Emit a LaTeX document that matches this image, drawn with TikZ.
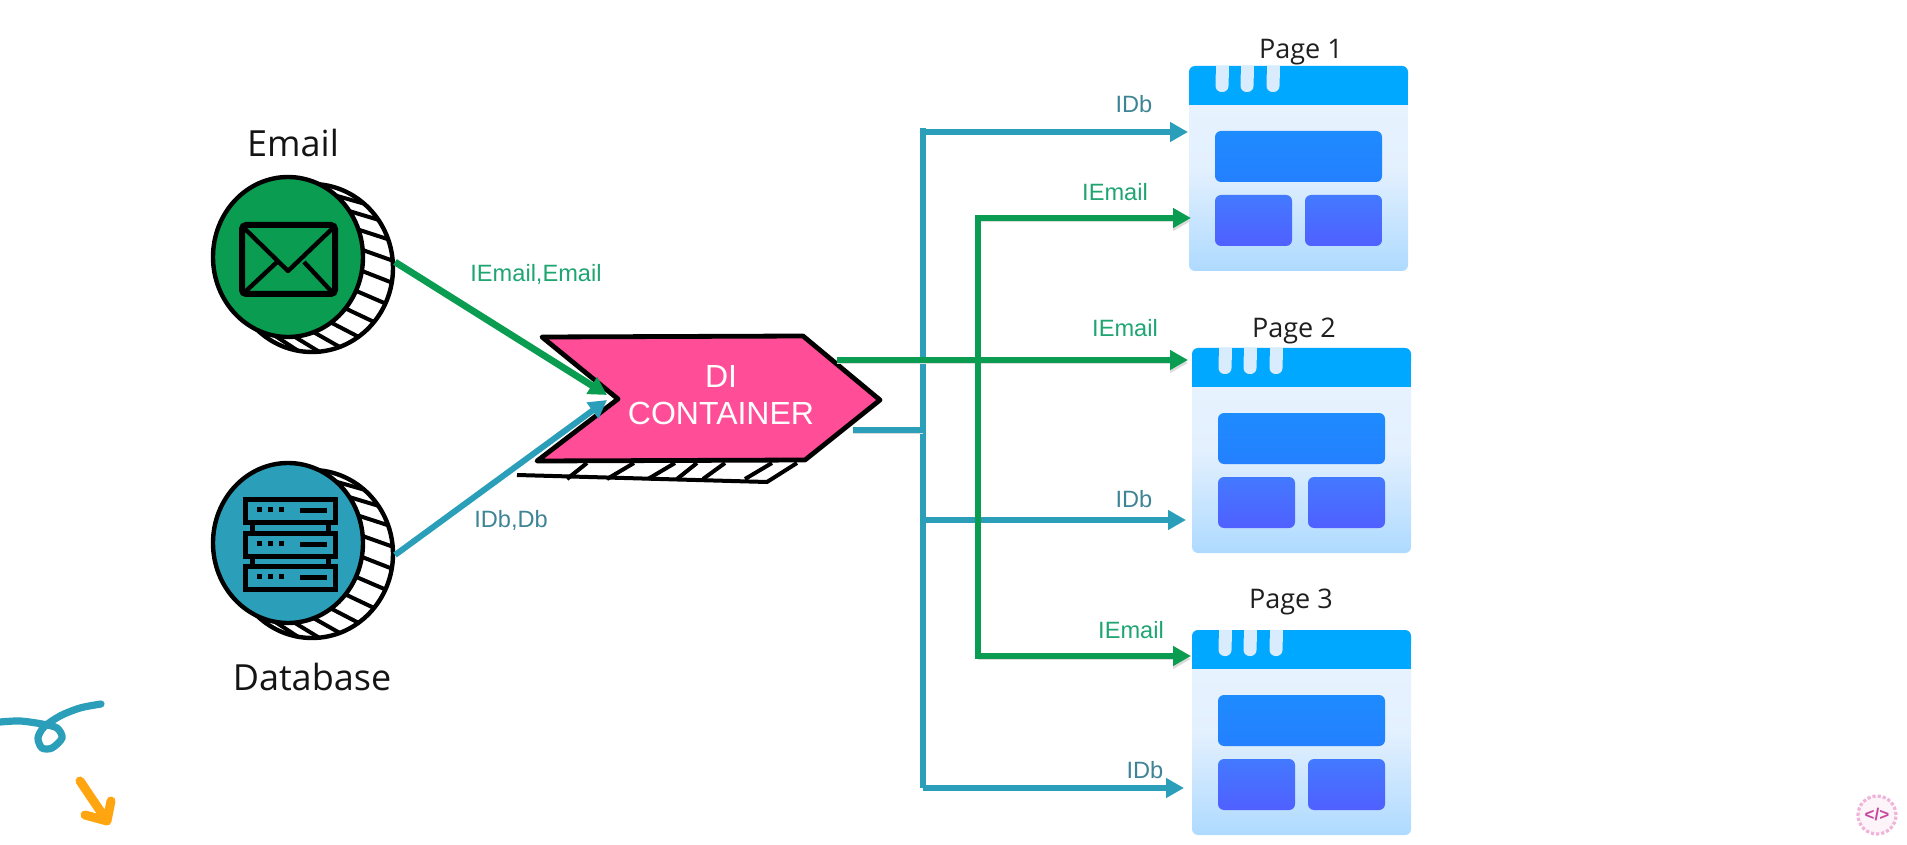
\documentclass[tikz,border=0pt]{standalone}
\usepackage{fontspec}
\setmainfont{Liberation Sans}
\newfontfamily\titlefont{Open Sans}
\usetikzlibrary{arrows.meta,shapes.geometric}
\definecolor{wireGreen}{HTML}{0A9C50}
\definecolor{wireTeal}{HTML}{2B9FB9}
\definecolor{lblGreen}{HTML}{1FA572}
\definecolor{lblTeal}{HTML}{3F8496}
\definecolor{chevPink}{HTML}{FF4D97}
\definecolor{headBlue}{HTML}{00A9FF}
\definecolor{bodyTop}{HTML}{E9F3FE}
\definecolor{bodyMid}{HTML}{E3F0FE}
\definecolor{bodyBot}{HTML}{AEDAFF}
\definecolor{notchPale}{HTML}{D8ECFD}
\definecolor{wideTop}{HTML}{1E8BFF}
\definecolor{wideBot}{HTML}{2480FF}
\definecolor{smallTop}{HTML}{4379FF}
\definecolor{smallBot}{HTML}{5060FF}
\definecolor{badgeInk}{HTML}{C8489E}
\definecolor{badgeRing}{HTML}{F0B4DA}
\definecolor{arrowOrange}{HTML}{FFA50F}
\tikzset{
  greenwire/.style={draw=wireGreen,line width=3.4pt,preaction={draw=black!14,transform canvas={yshift=-1.5pt}}},
  tealwire/.style={draw=wireTeal,line width=3pt},
  tiparrow/.style={-{Triangle[length=9pt,width=9.5pt]}},
  lblg/.style={text=lblGreen,font=\fontsize{11.8}{14}\selectfont,anchor=base,inner sep=0pt},
  lblt/.style={text=lblTeal,font=\fontsize{11.8}{14}\selectfont,anchor=base,inner sep=0pt},
  bigtitle/.style={font=\titlefont\fontsize{18}{22}\selectfont,text=black!92,anchor=base,inner sep=0pt},
  pagetitle/.style={font=\titlefont\fontsize{13.5}{16}\selectfont,text=black!88,anchor=base,inner sep=0pt},
  coinface/.style={ellipse,draw=black,line width=2.2pt,minimum width=75pt,minimum height=80pt,inner sep=0pt},
  pagebody/.style={rectangle,rounded corners=3pt,minimum width=109.5pt,minimum height=102.5pt,inner sep=0pt,
    top color=bodyTop,bottom color=bodyBot,middle color=bodyMid},
}
\begin{document}
\begin{tikzpicture}[x=0.5pt,y=-0.5pt]
  \useasboundingbox (0,0) rectangle (1907,845);

  % coins
  \foreach \nm/\cy/\col in {emailCoin/257/wireGreen,dbCoin/543/wireTeal} {
    \node[coinface,fill=white,minimum width=81pt,minimum height=84pt] (\nm Back) at (312,\cy+11) {};
    \foreach \a in {-50,-35,...,100}
      \draw[line width=2pt] ({288+75*cos(\a)},{\cy+80*sin(\a)}) -- ({312+81*cos(\a)},{\cy+11+84*sin(\a)});
    \node[coinface,fill=\col] (\nm) at (288,\cy) {};
  }

  % envelope
  \draw[line width=3pt,rounded corners=2pt] (242,225) rectangle (335,294);
  \draw[line width=2.2pt,line join=round] (243,227) -- (288,271) -- (334,227);
  \draw[line width=2.2pt] (245,292) -- (277,262) (332,292) -- (304,262);

  % server
  \foreach \ry in {499,533,566} {
    \draw[line width=2.5pt] (245,\ry) rectangle (335,\ry+23);
    \foreach \dx in {257,268,279}
      \fill (\dx,\ry+13) rectangle ++(5,-5);
    \draw[line width=2.5pt] (300,\ry+11) -- (327,\ry+11);
  }
  \draw[line width=2.5pt] (252,522) -- (252,533) (328,522) -- (328,533) (252,556) -- (252,566) (328,556) -- (328,566);

  \node[bigtitle] (emailTitle) at (293,157) {Email};
  \node[bigtitle] (dbTitle) at (312,690) {Database};

  % container
  \draw[line width=2pt] (517,475) -- (767,482) -- (797,463);
  \foreach \ta/\tb in {587/567,634/607,675/648,697/677,725/703,772/745}
    \draw[line width=2pt] (\ta,463) -- (\tb,479);
  \draw[fill=chevPink,line width=2.4pt,line join=round] (542,337) -- (803,336) -- (880,400) -- (805,460) -- (537,461) -- (618,399) -- cycle;
  \node[text=white,align=center,font=\fontsize{16}{18.5}\selectfont,inner sep=0pt] (container) at (721,395) {DI\\CONTAINER};

  \coordinate (emailOut) at (395,262);
  \coordinate (dbOut) at (395,555);
  \coordinate (notchA) at (607,395);
  \coordinate (notchB) at (607,400);
  \coordinate (chevGreen) at (837,360);
  \coordinate (chevTeal) at (853,430);
  \coordinate (tealJoin) at (923,430);
  \coordinate (tealTop) at (923,128);
  \coordinate (tealBot) at (923,788);
  \coordinate (tealMid) at (923,520);
  \coordinate (greenTop) at (978,218);
  \coordinate (greenBot) at (978,656);
  \coordinate (inDb1) at (1188,132);
  \coordinate (inEmail1) at (1191,218);
  \coordinate (inEmail2) at (1188,360);
  \coordinate (inDb2) at (1186,520);
  \coordinate (inEmail3) at (1191,656);
  \coordinate (inDb3) at (1184,788);

  % pages
  \foreach \n/\px/\py/\tx/\ty in {1/1189/66/1301/59,2/1192/348/1294/338,3/1192/630/1291/608} {
    \node[pagebody] (page\n) at (\px+109.5,\py+102.5) {};
    \fill[headBlue,rounded corners=3pt] (\px,\py) rectangle ++(219,20);
    \fill[headBlue] (\px,\py+10) rectangle ++(219,29);
    \foreach \kx in {33,58,84} {
      \fill[notchPale] (\px+\kx-6.5,\py) rectangle ++(13,12);
      \fill[notchPale,rounded corners=3pt] (\px+\kx-6.5,\py+4) rectangle ++(13,22);
    }
    \shade[top color=wideTop,bottom color=wideBot,rounded corners=3pt] (\px+26,\py+65) rectangle ++(167,51);
    \shade[top color=smallTop,bottom color=smallBot,rounded corners=3pt] (\px+26,\py+129) rectangle ++(77,51);
    \shade[top color=smallTop,bottom color=smallBot,rounded corners=3pt] (\px+116,\py+129) rectangle ++(77,51);
    \node[pagetitle] (pageTitle\n) at (\tx,\ty) {Page \n};
  }

  % wires
  \draw[tealwire] (tealTop) -- (tealBot) -- (tealBot -| tealMid);
  \draw[tealwire,tiparrow] (tealTop |- inDb1) -- (inDb1);
  \draw[tealwire,tiparrow] (tealMid) -- (inDb2);
  \draw[tealwire,tiparrow] (tealBot) -- (inDb3);
  \draw[tealwire,preaction={draw=black!14,transform canvas={yshift=-1.5pt}}] (chevTeal) -- (tealJoin);
  \draw[greenwire,tiparrow] (chevGreen) -- (inEmail2);
  \draw[greenwire,tiparrow] (inEmail1 -| greenTop) -- (inEmail1);
  \draw[greenwire,tiparrow] (greenBot) -- (inEmail3);
  \draw[greenwire,line cap=rect] (greenTop) -- (greenBot);
  \draw[draw=wireGreen,line width=3.4pt,tiparrow] (emailOut) -- (notchA);
  \draw[tealwire,tiparrow] (dbOut) -- (notchB);

  \node[lblg] (lblIn1) at (536,282) {IEmail,Email};
  \node[lblt] (lblIn2) at (511,527) {IDb,Db};
  \node[lblt] (lblDb1) at (1134,113) {IDb};
  \node[lblg] (lblEmail1) at (1115,201) {IEmail};
  \node[lblg] (lblEmail2) at (1125,336) {IEmail};
  \node[lblt] (lblDb2) at (1134,507) {IDb};
  \node[lblg] (lblEmail3) at (1131,638) {IEmail};
  \node[lblt] (lblDb3) at (1145,778) {IDb};

  % corner marks
  \draw[wireTeal,line width=3.6pt,line cap=round] plot[smooth] coordinates {(0,722) (20,721) (42,724) (57,728) (62,738) (52,748) (42,748) (38,738) (44,727) (60,716) (80,708) (101,704)};
  \draw[arrowOrange,line width=4.5pt,line cap=round,line join=round] (80,781) -- (105,818) (85,815) -- (107,821) -- (111,801);
  \node[circle,draw=badgeRing,fill=badgeInk!6,densely dotted,line width=1.6pt,minimum size=19pt,inner sep=0pt,text=badgeInk,font=\bfseries\fontsize{8.5}{10}\selectfont] (badge) at (1877,815) {</>};
\end{tikzpicture}
\end{document}
